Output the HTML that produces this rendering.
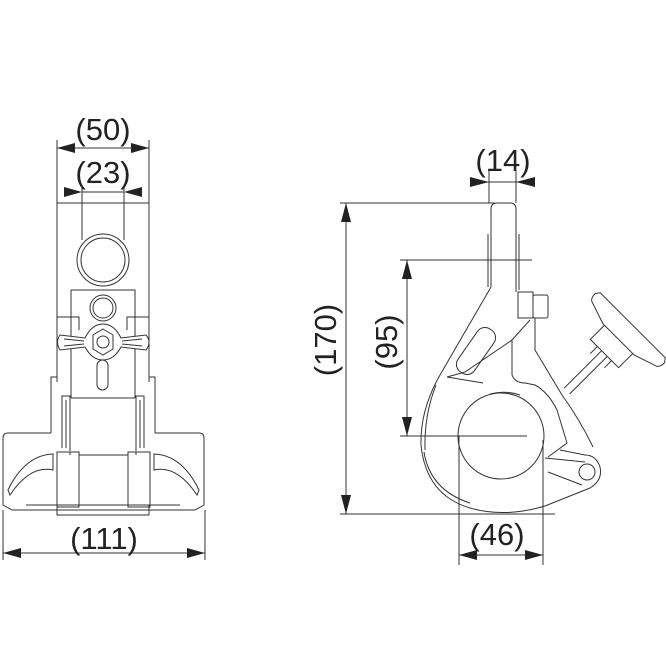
<!DOCTYPE html>
<html><head><meta charset="utf-8"><style>
html,body{margin:0;padding:0;background:#fff;}
svg{display:block;}
text{font-family:"Liberation Sans",sans-serif;font-size:31px;fill:#222;}
</style></head><body>
<svg width="666" height="666" viewBox="0 0 666 666" xmlns="http://www.w3.org/2000/svg">
<g stroke="#333" stroke-width="1" fill="none">
<line x1="57" y1="140" x2="57" y2="317"/>
<line x1="149" y1="140" x2="149" y2="317"/>
<line x1="57" y1="148" x2="149" y2="148"/>
<line x1="82" y1="186" x2="82" y2="240"/>
<line x1="124" y1="186" x2="124" y2="240"/>
<line x1="82" y1="192" x2="124" y2="192"/>
<line x1="57" y1="203" x2="149" y2="203"/>
<circle cx="103" cy="260" r="26"/>
<circle cx="103" cy="260" r="22"/>
<path d="M71 377 V290 H135 V377"/>
<circle cx="103" cy="308" r="13"/>
<circle cx="103" cy="308" r="10"/>
<path d="M57 317 H79 V330 M149 317 H127 V330"/>
<path d="M57 317 V382 M149 317 V382"/>
<path d="M60 335 Q55 342 60 350 L85 347 Q92 360 103 360 Q114 360 121 347 L146 350 Q152 342 146 335 L121 338 Q114 324 103 324 Q92 324 85 338 Z" fill="#fff"/>
<path d="M64 339 L84 341 M64 346 L84 344 M142 339 L122 341 M142 346 L122 344"/>
<polygon points="103,329 113,335 113,349 103,355 93,349 93,335" fill="#fff"/>
<circle cx="103" cy="342" r="6"/>
<rect x="97" y="360" width="11" height="30" rx="5.5" fill="#fff"/>
<path d="M51 433 V377 H57 M155 433 V377 H149"/>
<path d="M71 377 V398 M135 377 V398"/>
<line x1="71" y1="398" x2="135" y2="398"/>
<path d="M62 448 V396 H70 V451 M144 448 V396 H136 V451"/>
<path d="M66 448 V400 M140 448 V400"/>
<path d="M51 433 H8 Q3 433 3 438 V505 L12 510 H195 L204 505 V438 Q204 433 199 433 H155"/>
<path d="M26 505 H58 M148 505 H180"/>
<rect x="57" y="452" width="22" height="55"/>
<rect x="128" y="452" width="22" height="55"/>
<line x1="79" y1="455" x2="128" y2="455"/>
<path d="M70 452 V455 M136 452 V455"/>
<rect x="57" y="505" width="92" height="10"/>
<path d="M53 454 Q25 455 8 490 L10 495 Q30 465 53 470 Z"/>
<path d="M154 454 Q182 455 199 490 L197 495 Q177 465 154 470 Z"/>
<line x1="3" y1="510" x2="3" y2="560"/>
<line x1="205" y1="510" x2="205" y2="560"/>
<line x1="3" y1="553" x2="205" y2="553"/>

<line x1="489" y1="170" x2="489" y2="203"/>
<line x1="516" y1="170" x2="516" y2="203"/>
<line x1="470" y1="182" x2="535" y2="182"/>
<line x1="340" y1="203" x2="495" y2="203"/>
<line x1="340" y1="514" x2="555" y2="514"/>
<line x1="346" y1="203" x2="346" y2="514"/>
<line x1="400" y1="260" x2="532" y2="260"/>
<line x1="400" y1="436" x2="527" y2="436"/>
<line x1="407" y1="260" x2="407" y2="436"/>
<line x1="459" y1="436" x2="459" y2="565"/>
<line x1="543" y1="440" x2="543" y2="565"/>
<line x1="459" y1="555" x2="543" y2="555"/>
<path d="M491 287 V209 Q491 203 497 203 H510 Q516 203 516 209 V292"/>
<path d="M488 234 V287 M519 234 V290"/>
<path d="M491 287 L440 375 Q420 410 421 445 Q426 495 470 508 Q505 518 545 506 L590 488 Q603 480 600 467 Q596 455 585 455 L560 450"/>
<path d="M436 385 Q424 415 425 450 M424 452 Q430 490 470 503"/>
<path d="M518 292 H533 V318 H518 Z"/>
<rect x="533" y="295" width="15" height="23" rx="2"/>
<path d="M535 318 V350 L562 395 Q580 420 593 447"/>
<path d="M530 320 L512 340 V375 Q515 383 525 383"/>
<path d="M512 340 L465 372 L447 377"/>
<rect x="466" y="325" width="20" height="52" rx="9" transform="rotate(35 476 351)"/>
<path d="M447 377 L483 383 M490 394 Q505 390 520 395 M525 383 L535 385 Q548 392 557 410 L567 443 L548 457"/>
<circle cx="501" cy="436" r="43"/>
<path d="M545 458 L585 462 M548 472 L582 485"/>
<circle cx="587" cy="472" r="8"/>
<g transform="translate(620 338) rotate(-45)">
<line x1="-75" y1="-4" x2="-20" y2="-4"/>
<line x1="-75" y1="4" x2="-20" y2="4"/>
<rect x="-22" y="-20" width="22" height="40" fill="#fff"/>
<path d="M-2 -22 L6 -46 Q8 -49 14 -49 L18 -46 L18 46 L14 49 Q8 49 6 46 L-2 22 Z" fill="#fff"/>
<path d="M-32 -10 H-22 M-32 10 H-22"/>
</g>
</g>
<g fill="#222">
<polygon points="57,148 75,143 75,153"/>
<polygon points="149,148 131,143 131,153"/>
<polygon points="82,192 64,187 64,197"/>
<polygon points="124,192 142,187 142,197"/>
<polygon points="3,553 21,548 21,558"/>
<polygon points="205,553 187,548 187,558"/>
<polygon points="489,182 470,177 470,187"/>
<polygon points="516,182 535,177 535,187"/>
<polygon points="346,203 341,222 351,222"/>
<polygon points="346,514 341,495 351,495"/>
<polygon points="407,260 402,279 412,279"/>
<polygon points="407,436 402,417 412,417"/>
<polygon points="459,555 477,550 477,560"/>
<polygon points="543,555 525,550 525,560"/>
</g>
<text x="103" y="140" text-anchor="middle">(50)</text>
<text x="103" y="183" text-anchor="middle">(23)</text>
<text x="104" y="549" text-anchor="middle">(111)</text>
<text x="503" y="171" text-anchor="middle">(14)</text>
<text x="497" y="545" text-anchor="middle">(46)</text>
<text x="0" y="0" text-anchor="middle" transform="translate(336 340) rotate(-90)">(170)</text>
<text x="0" y="0" text-anchor="middle" transform="translate(397 342) rotate(-90)">(95)</text>
</svg>
</body></html>
